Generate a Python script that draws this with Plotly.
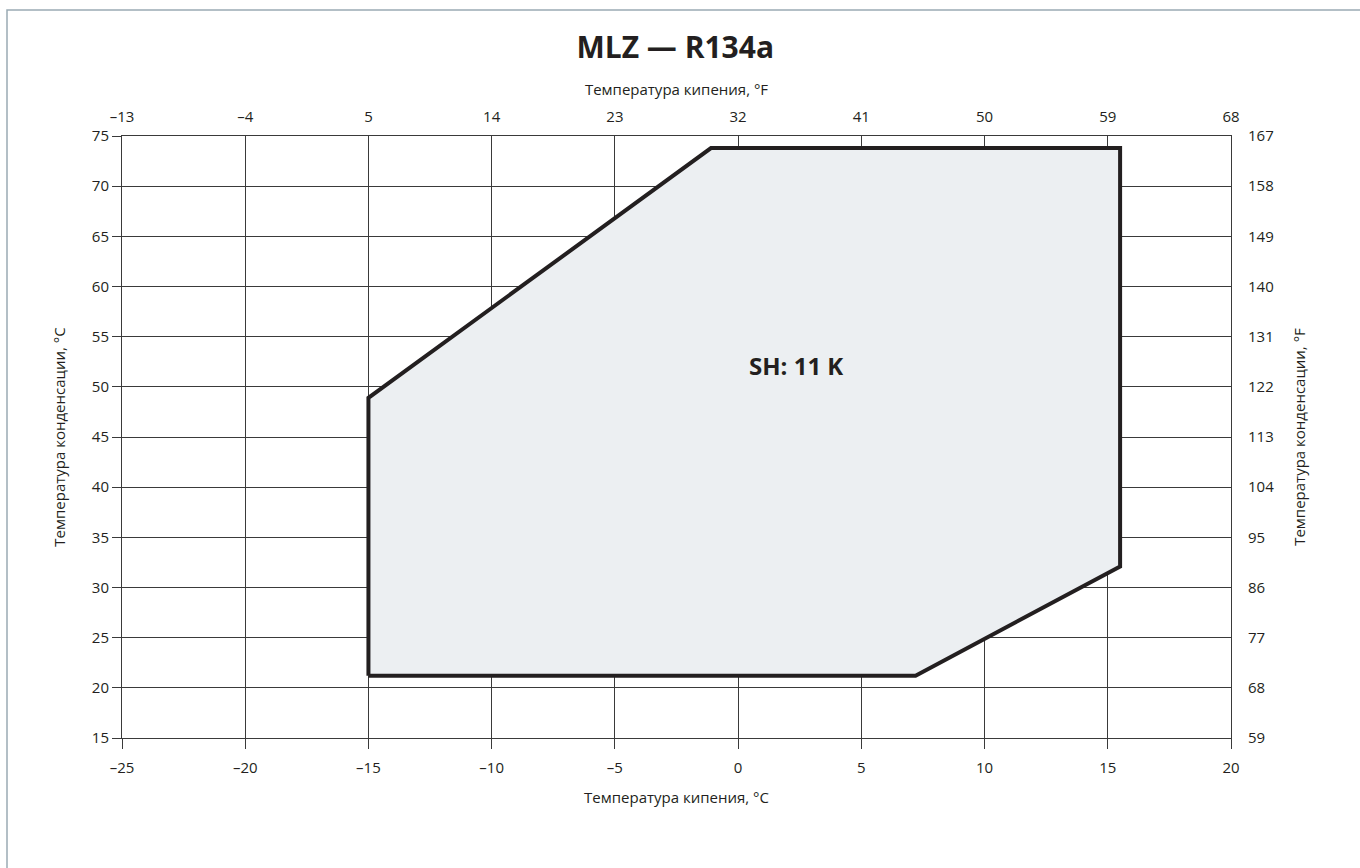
import plotly.graph_objects as go

# Envelope polygon (evaporating temp °C, condensing temp °C)
env_te = [-15, -15, -1.1, 15.5, 15.5, 7.2, -15]
env_tc = [21.2, 48.9, 73.8, 73.8, 32.1, 21.2, 21.2]

x_c_ticks = [-25, -20, -15, -10, -5, 0, 5, 10, 15, 20]
x_f_ticks = [-13, -4, 5, 14, 23, 32, 41, 50, 59, 68]
y_c_ticks = [15, 20, 25, 30, 35, 40, 45, 50, 55, 60, 65, 70, 75]
y_f_ticks = [59, 68, 77, 86, 95, 104, 113, 122, 131, 140, 149, 158, 167]

title_text = "MLZ — R134a"
label_text = "SH: 11 K"
label_pos = (2.35, 52.1)
x_title_c = "Температура кипения, °C"
x_title_f = "Температура кипения, °F"
y_title_c = "Температура конденсации, °С"
y_title_f = "Температура конденсации, °F"

FONT = "Open Sans"
TXT = "#231F20"
GRID = "#3a3a3a"
FS = 15

fig = go.Figure()
fig.add_trace(go.Scatter(
    x=env_te, y=env_tc, mode="lines", fill="toself",
    fillcolor="#ECEFF2", line=dict(color="#231F20", width=4),
    hoverinfo="skip", showlegend=False))
fig.add_trace(go.Scatter(x=[None], y=[None], xaxis="x2", yaxis="y2",
                         showlegend=False, hoverinfo="skip"))

axis_font = dict(family=FONT, size=FS, color=TXT)
title_font = dict(family=FONT, size=FS, color=TXT)

fig.update_layout(
    width=1360, height=868,
    paper_bgcolor="white", plot_bgcolor="white",
    margin=dict(l=122, r=129, t=136, b=130),
    font=dict(family=FONT, color=TXT),
    title=dict(text="<b>" + title_text + "</b>", x=0.4965, xanchor="center",
               y=1 - 47 / 868, yanchor="middle",
               font=dict(family=FONT, size=30, color=TXT)),
    xaxis=dict(range=[-25, 20], tickvals=x_c_ticks,
               ticktext=[str(v).replace("-", "–") for v in x_c_ticks],
               showgrid=True, gridcolor=GRID, gridwidth=1,
               showline=True, linecolor=GRID, linewidth=1, mirror=True,
               ticks="outside", ticklen=10, tickcolor=GRID,
               tickfont=axis_font, zeroline=False, ticklabelstandoff=6,
               title=dict(text=x_title_c, font=title_font, standoff=16)),
    xaxis2=dict(range=[-13, 68], tickvals=x_f_ticks,
                ticktext=[str(v).replace("-", "–") for v in x_f_ticks],
                overlaying="x", side="top", showgrid=False, zeroline=False,
                showline=False, ticks="", tickfont=axis_font, ticklabelstandoff=10,
                title=dict(text=x_title_f, font=title_font, standoff=6)),
    yaxis=dict(range=[15, 75], tickvals=y_c_ticks,
               showgrid=True, gridcolor=GRID, gridwidth=1,
               showline=True, linecolor=GRID, linewidth=1, mirror=True,
               ticks="outside", ticklen=9, tickcolor=GRID,
               tickfont=axis_font, zeroline=False,
               title=dict(text=y_title_c, font=title_font, standoff=22)),
    yaxis2=dict(range=[59, 167], tickvals=y_f_ticks,
                overlaying="y", side="right", showgrid=False, zeroline=False,
                showline=False, ticks="", tickfont=axis_font,
                ticklabelstandoff=16,
                title=dict(text=y_title_f, font=title_font, standoff=21)),
    annotations=[dict(x=label_pos[0], y=label_pos[1], xref="x", yref="y",
                      text="<b>" + label_text + "</b>",
                      showarrow=False, font=dict(family=FONT, size=24, color=TXT))],
    shapes=[dict(type="rect", xref="paper", yref="paper",
                 x0=(7 - 122) / 1109, x1=2.0, y0=-2.0, y1=(738 - 10) / 602,
                 line=dict(color="#9AAAB4", width=1.5), layer="below")],
)

fig.write_html("out.html", config={"displayModeBar": False},
               post_script="document.body.style.margin='0';document.body.style.overflow='hidden';")
